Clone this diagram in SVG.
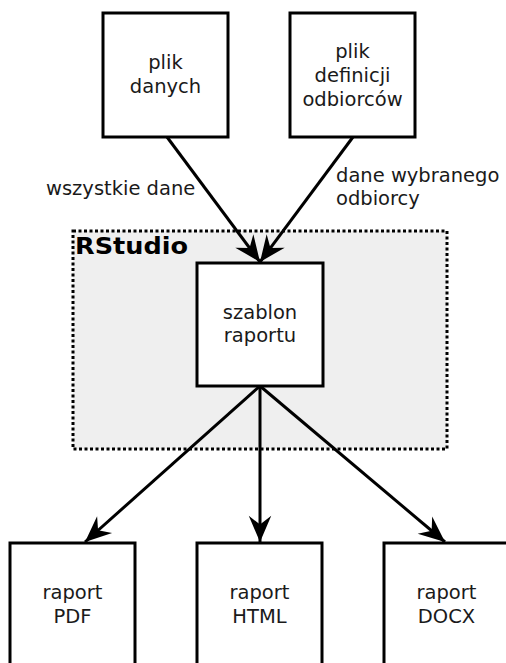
<svg xmlns="http://www.w3.org/2000/svg" width="506" height="663" viewBox="0 0 506 663">
<style>
.box{fill:#fff;stroke:#000;stroke-width:3}
.t{font-family:"DejaVu Sans",sans-serif;font-size:19.5px;fill:#1a1a1a;text-anchor:middle}
.l{font-family:"DejaVu Sans",sans-serif;font-size:19.5px;fill:#1a1a1a}
.c{fill:none;stroke:#000;stroke-width:3}
</style>
<defs>
<marker id="ah" markerUnits="userSpaceOnUse" markerWidth="30" markerHeight="30" viewBox="-22 -12 24 24" refX="0" refY="0" orient="auto">
<path d="M0,0 L-21,-9 L-14,0 L-21,9 Z" fill="#000"/>
</marker>
</defs>
<rect width="506" height="663" fill="#fff"/>
<g id="rstudio">
<rect x="73" y="231" width="374" height="218" fill="#efefef" stroke="#000" stroke-width="3" stroke-dasharray="3,2.5"/>
<text x="75" y="254" font-family="DejaVu Sans,sans-serif" font-weight="bold" font-size="22.5" fill="#000" textLength="113" lengthAdjust="spacingAndGlyphs">RStudio</text>
</g>
<g id="connectors">
<line class="c" x1="167" y1="137" x2="260" y2="262" marker-end="url(#ah)"/>
<line class="c" x1="353" y1="137" x2="260" y2="262" marker-end="url(#ah)"/>
<line class="c" x1="260" y1="386" x2="85" y2="542" marker-end="url(#ah)"/>
<line class="c" x1="260" y1="386" x2="260" y2="542" marker-end="url(#ah)"/>
<line class="c" x1="260" y1="386" x2="445" y2="542" marker-end="url(#ah)"/>
<text class="l" x="46" y="195">wszystkie dane</text>
<text class="l" x="336" y="182">dane wybranego</text>
<text class="l" x="336" y="205">odbiorcy</text>
</g>
<g id="plik-danych">
<rect class="box" x="103" y="13" width="125" height="124"/>
<text class="t" x="165.5" y="69">plik</text>
<text class="t" x="165.5" y="93">danych</text>
</g>
<g id="plik-definicji">
<rect class="box" x="290" y="13" width="125" height="124"/>
<text class="t" x="352.5" y="58">plik</text>
<text class="t" x="352.5" y="82">definicji</text>
<text class="t" x="352.5" y="106">odbiorców</text>
</g>
<g id="szablon">
<rect class="box" x="197" y="263" width="126" height="123"/>
<text class="t" x="260" y="319">szablon</text>
<text class="t" x="260" y="342">raportu</text>
</g>
<g id="raport-pdf">
<rect class="box" x="10" y="543" width="125" height="140"/>
<text class="t" x="72.5" y="599">raport</text>
<text class="t" x="72.5" y="623">PDF</text>
</g>
<g id="raport-html">
<rect class="box" x="197" y="543" width="125" height="140"/>
<text class="t" x="259.5" y="599">raport</text>
<text class="t" x="259.5" y="623">HTML</text>
</g>
<g id="raport-docx">
<rect class="box" x="384" y="543" width="125" height="140"/>
<text class="t" x="446.5" y="599">raport</text>
<text class="t" x="446.5" y="623">DOCX</text>
</g>
</svg>
